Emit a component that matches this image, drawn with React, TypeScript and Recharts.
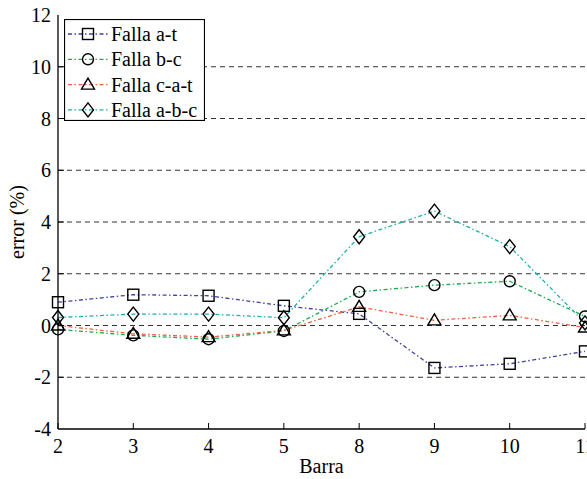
import React from "react";
import {
  LineChart,
  Line,
  XAxis,
  YAxis,
  CartesianGrid,
  Legend,
} from "recharts";

const barras = ["2", "3", "4", "5", "8", "9", "10", "11"];
const fallaAT = [0.9, 1.19, 1.15, 0.76, 0.45, -1.64, -1.48, -1.0];
const fallaBC = [-0.15, -0.38, -0.53, -0.21, 1.3, 1.56, 1.71, 0.35];
const fallaCAT = [0.0, -0.32, -0.45, -0.19, 0.72, 0.2, 0.39, -0.08];
const fallaABC = [0.31, 0.44, 0.44, 0.3, 3.43, 4.42, 3.05, 0.1];
const yTicks = [-4, -2, 0, 2, 4, 6, 8, 10, 12];
const gridValues = [-2, 0, 2, 4, 6, 8, 10];

const data = barras.map((b, i) => ({
  idx: i,
  barra: b,
  at: fallaAT[i],
  bc: fallaBC[i],
  cat: fallaCAT[i],
  abc: fallaABC[i],
}));

const series = [
  { key: "at", name: "Falla a-t", color: "#4040a4", shape: "square" },
  { key: "bc", name: "Falla b-c", color: "#1cac52", shape: "circle" },
  { key: "cat", name: "Falla c-a-t", color: "#f0623e", shape: "triangle" },
  { key: "abc", name: "Falla a-b-c", color: "#1fb0b0", shape: "diamond" },
];

const FONT = "Liberation Serif";
const FS = 20;
const txt = { fontFamily: FONT, fontSize: FS, fill: "#000" };
const DASH = "4 2.5 1.5 2.5";

function Marker({ shape, cx, cy }: { shape: string; cx: number; cy: number }) {
  const common = { fill: "none", stroke: "#000", strokeWidth: 1.4 };
  if (shape === "square")
    return <rect x={cx - 5.5} y={cy - 5.5} width={11} height={11} {...common} />;
  if (shape === "circle") return <circle cx={cx} cy={cy} r={5.5} {...common} />;
  if (shape === "triangle")
    return (
      <polygon
        points={`${cx},${cy - 6.5} ${cx - 6.5},${cy + 4.5} ${cx + 6.5},${cy + 4.5}`}
        {...common}
      />
    );
  return (
    <polygon
      points={`${cx},${cy - 7} ${cx + 5.5},${cy} ${cx},${cy + 7} ${cx - 5.5},${cy}`}
      {...common}
    />
  );
}

const makeDot = (shape: string) => (props: any) => {
  const { cx, cy, index } = props;
  if (cx == null || cy == null) return <g key={`d-${shape}-${index}`} />;
  return (
    <g key={`d-${shape}-${index}`}>
      <Marker shape={shape} cx={cx} cy={cy} />
    </g>
  );
};

// inward tick marks + labels (MATLAB style)
const BottomTick = (props: any) => {
  const { x, y, payload } = props;
  const axisY = y - 8;
  return (
    <g>
      <line x1={x} x2={x} y1={axisY} y2={axisY - 6} stroke="#000" strokeWidth={1} />
      <text x={x} y={y + 16} textAnchor="middle" fontFamily={FONT} fontSize={FS} fill="#000" style={txt}>
        {barras[payload.value]}
      </text>
    </g>
  );
};

const TopTick = (props: any) => {
  const { x, y } = props;
  const axisY = y + 8;
  return <line x1={x} x2={x} y1={axisY} y2={axisY + 6} stroke="#000" strokeWidth={1} />;
};

const LeftTick = (props: any) => {
  const { x, y, payload } = props;
  const axisX = x + 8;
  const v = payload.value;
  return (
    <g>
      {v !== -4 && v !== 12 && (
        <line x1={axisX} x2={axisX + 6} y1={y} y2={y} stroke="#000" strokeWidth={1} />
      )}
      <text x={x + 1} y={y + 7} textAnchor="end" fontFamily={FONT} fontSize={FS} fill="#000" style={txt}>
        {v}
      </text>
    </g>
  );
};

const RightTick = (props: any) => {
  const { x, y, payload } = props;
  const axisX = x - 8;
  const v = payload.value;
  if (v === -4 || v === 12) return <g />;
  return <line x1={axisX} x2={axisX - 6} y1={y} y2={y} stroke="#000" strokeWidth={1} />;
};

const LegendBox = () => (
  <svg width={141} height={102} style={{ display: "block" }}>
    <rect x={0.5} y={0.5} width={140} height={101} fill="#fff" stroke="#000" strokeWidth={1.2} />
    {series.map((s, i) => {
      const cy = 15 + i * 25.3;
      return (
        <g key={s.key}>
          <line x1={4} x2={46} y1={cy} y2={cy} stroke={s.color} strokeWidth={1.3} strokeDasharray={DASH} />
          <Marker shape={s.shape} cx={24} cy={cy} />
          <text x={47} y={cy + 7} fontFamily={FONT} fontSize={FS} fill="#000" style={txt}>
            {s.name}
          </text>
        </g>
      );
    })}
  </svg>
);

export default function App() {
  return (
    <div
      style={{
        position: "absolute",
        left: 0,
        top: 0,
        width: 587,
        height: 479,
        overflow: "hidden",
        background: "#fff",
        fontFamily: FONT,
        fontSize: FS,
      }}
    >
      <LineChart
        width={587}
        height={479}
        data={data}
        margin={{ top: 15, right: 2, bottom: 0, left: 0 }}
      >
        <CartesianGrid
          vertical={false}
          horizontalValues={gridValues}
          stroke="#333"
          strokeDasharray="5 4"
        />
        <XAxis
          dataKey="idx"
          type="number"
          domain={[0, 7]}
          ticks={[0, 1, 2, 3, 4, 5, 6, 7]}
          tick={<BottomTick />}
          tickLine={false}
          axisLine={{ stroke: "#000", strokeWidth: 1.3 }}
          height={50}
          interval={0}
          label={{
            value: "Barra",
            position: "insideBottom",
            offset: 6,
            fontFamily: FONT,
            fontSize: FS,
            fill: "#000",
            style: txt,
          }}
        />
        <XAxis
          xAxisId="top"
          orientation="top"
          dataKey="idx"
          type="number"
          domain={[0, 7]}
          ticks={[0, 1, 2, 3, 4, 5, 6, 7]}
          tick={<TopTick />}
          tickLine={false}
          axisLine={{ stroke: "#000", strokeWidth: 1.3 }}
          height={0}
          interval={0}
        />
        <YAxis
          type="number"
          domain={[-4, 12]}
          ticks={yTicks}
          tick={<LeftTick />}
          tickLine={false}
          axisLine={{ stroke: "#000", strokeWidth: 1.3 }}
          width={58}
          interval={0}
          label={{
            value: "error (%)",
            angle: -90,
            position: "insideLeft",
            offset: 17,
            fontFamily: FONT,
            fontSize: FS,
            fill: "#000",
            style: { ...txt, textAnchor: "middle" },
          }}
        />
        <YAxis
          yAxisId="right"
          orientation="right"
          type="number"
          domain={[-4, 12]}
          ticks={yTicks}
          tick={<RightTick />}
          tickLine={false}
          axisLine={{ stroke: "#000", strokeWidth: 1.3 }}
          width={0}
          interval={0}
        />
        {series.map((s) => (
          <Line
            key={s.key}
            type="linear"
            dataKey={s.key}
            name={s.name}
            stroke={s.color}
            strokeWidth={1.3}
            strokeDasharray={DASH}
            dot={makeDot(s.shape)}
            activeDot={false}
            isAnimationActive={false}
          />
        ))}
        <Legend
          content={<LegendBox />}
          layout="vertical"
          verticalAlign="middle"
          align="center"
          wrapperStyle={{ position: "absolute", left: 64, top: 19, width: 141, height: 102 }}
        />
      </LineChart>
    </div>
  );
}
